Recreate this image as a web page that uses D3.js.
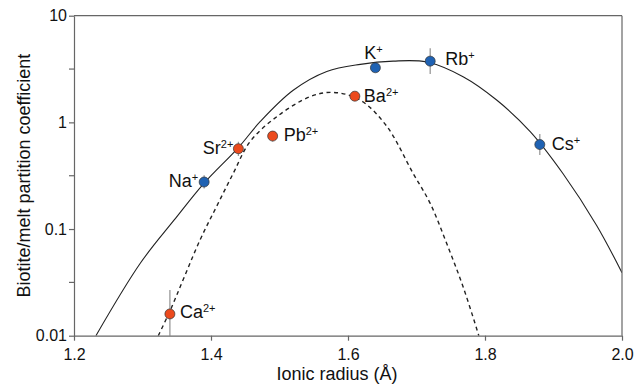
<!DOCTYPE html>
<html>
<head>
<meta charset="utf-8">
<script src="https://cdn.jsdelivr.net/npm/d3@7"></script>
<style>
  body { margin: 0; background: #fff; }
  text { font-family: "Liberation Sans", Arial, sans-serif; fill: #111; }
</style>
</head>
<body>
<div id="chart"></div>
<script>
// measured points
const ions = ["Na", "Sr", "Pb", "Ba", "K", "Rb", "Cs", "Ca"];
const charges = ["+", "2+", "2+", "2+", "+", "+", "+", "2+"];
const radius = [1.39, 1.44, 1.49, 1.61, 1.64, 1.72, 1.88, 1.34];
const partition = [0.276, 0.566, 0.744, 1.76, 3.25, 3.75, 0.62, 0.016];
const errLow = [0.24, 0.483, 0.66, 1.76, 3.25, 2.84, 0.494, 0.009];
const errHigh = [0.32, 0.658, 0.829, 1.76, 3.25, 4.94, 0.777, 0.0268];

// fitted curves
const monoR = [1.232, 1.297, 1.346, 1.39, 1.44, 1.472, 1.52, 1.569, 1.618, 1.666, 1.715, 1.768, 1.817, 1.866, 1.914, 1.963, 2.0];
const monoD = [0.01, 0.048, 0.121, 0.27, 0.58, 1.02, 2.0, 3.0, 3.5, 3.75, 3.68, 2.68, 1.62, 0.82, 0.33, 0.108, 0.039];
const diR = [1.323, 1.34, 1.384, 1.408, 1.4325, 1.457, 1.496, 1.5445, 1.5785, 1.6175, 1.656, 1.695, 1.72, 1.744, 1.768, 1.791];
const diD = [0.01, 0.017, 0.079, 0.162, 0.333, 0.66, 1.13, 1.74, 1.91, 1.62, 0.93, 0.333, 0.174, 0.0735, 0.0288, 0.01];

// axis ticks
const xTicks = [1.2, 1.4, 1.6, 1.8, 2.0];
const yTicks = [0.01, 0.1, 1, 10];
const yTickLabels = ["0.01", "0.1", "1", "10"];
const yMinorTicks = [0.0316, 0.316, 3.16];

// label offsets from each marker (layout only)
const labelPos = {
  Na: [-6, 5, "end"], Sr: [-5, 5, "end"], Pb: [11, 5, "start"], Ba: [9, 6, "start"],
  K: [-2, -9, "middle"], Rb: [15, 4, "start"], Cs: [12, 6, "start"], Ca: [10, 4, "start"]
};

const W = 643, H = 386;
const margin = {left: 74, right: 21, top: 15.7, bottom: 50.3};
const iw = W - margin.left - margin.right;
const ih = H - margin.top - margin.bottom;

const svg = d3.select("#chart").append("svg")
  .attr("width", W).attr("height", H);

const g = svg.append("g")
  .attr("transform", `translate(${margin.left},${margin.top})`);

const x = d3.scaleLinear().domain([1.2, 2.0]).range([0, iw]);
const y = d3.scaleLog().domain([0.01, 10]).range([ih, 0]);

g.append("clipPath").attr("id", "clip")
  .append("rect").attr("width", iw).attr("height", ih);

const plot = g.append("g").attr("clip-path", "url(#clip)");

/* curves */
const line = d3.line()
  .x(d => x(d[0]))
  .y(d => y(d[1]))
  .curve(d3.curveCatmullRom.alpha(0.5));

plot.append("path")
  .attr("d", line(d3.zip(monoR, monoD)))
  .attr("fill", "none").attr("stroke", "#222").attr("stroke-width", 1.1);

plot.append("path")
  .attr("d", line(d3.zip(diR, diD)))
  .attr("fill", "none").attr("stroke", "#222").attr("stroke-width", 1.4)
  .attr("stroke-dasharray", "4,3.5");

/* error bars */
const idx = d3.range(ions.length);
plot.selectAll(".err").data(idx).enter()
  .append("line")
  .attr("x1", i => x(radius[i])).attr("x2", i => x(radius[i]))
  .attr("y1", i => y(errLow[i])).attr("y2", i => y(errHigh[i]))
  .attr("stroke", "#999").attr("stroke-width", 1.3);

/* points */
plot.selectAll(".pt").data(idx).enter()
  .append("circle")
  .attr("cx", i => x(radius[i]))
  .attr("cy", i => y(partition[i]))
  .attr("r", 5)
  .attr("fill", i => charges[i] === "+" ? "#1f62b3" : "#ec4a1d")
  .attr("stroke", "#333").attr("stroke-width", 0.7);

/* labels */
const lab = g.selectAll(".lab").data(idx).enter()
  .append("text")
  .attr("x", i => x(radius[i]) + labelPos[ions[i]][0])
  .attr("y", i => y(partition[i]) + labelPos[ions[i]][1])
  .attr("text-anchor", i => labelPos[ions[i]][2])
  .style("font-size", "18px");
lab.append("tspan").text(i => ions[i]);
lab.append("tspan").attr("dy", -6).style("font-size", "11px").text(i => charges[i]);

/* axes */
const xAxis = d3.axisBottom(x).tickValues(xTicks).tickFormat(d3.format(".1f")).tickSize(5).tickSizeOuter(0);
const yAxis = d3.axisLeft(y).tickValues(yTicks).tickFormat((d, i) => yTickLabels[i]).tickSize(5).tickSizeOuter(0);

const gx = g.append("g").attr("transform", `translate(0,${ih})`).call(xAxis);
const gy = g.append("g").call(yAxis);

g.append("g").selectAll("line").data(yMinorTicks).enter()
  .append("line")
  .attr("x1", -5).attr("x2", 0)
  .attr("y1", d => y(d)).attr("y2", d => y(d))
  .attr("stroke", "#666").attr("stroke-width", 1.2);

[gx, gy].forEach(a => {
  a.select(".domain").attr("stroke", "#666").attr("stroke-width", 1.2);
  a.selectAll(".tick line").attr("stroke", "#666").attr("stroke-width", 1.2);
  a.selectAll(".tick text").style("font-size", "16px").attr("fill", "#111")
    .style("font-family", "'Liberation Sans', Arial, sans-serif");
});
gx.selectAll(".tick text").attr("dy", "1.05em");
gy.selectAll(".tick text").attr("x", -7);

// box top and right
g.append("line").attr("x1", 0).attr("x2", iw).attr("y1", 0).attr("y2", 0)
  .attr("stroke", "#666").attr("stroke-width", 1.2);
g.append("line").attr("x1", iw).attr("x2", iw).attr("y1", 0).attr("y2", ih)
  .attr("stroke", "#666").attr("stroke-width", 1.2);

/* axis titles */
svg.append("text")
  .attr("x", 337).attr("y", 380)
  .attr("text-anchor", "middle")
  .style("font-size", "18px")
  .text("Ionic radius (Å)");

svg.append("text")
  .attr("transform", `translate(30,${margin.top + ih / 2}) rotate(-90)`)
  .attr("text-anchor", "middle")
  .style("font-size", "18px")
  .text("Biotite/melt partition coefficient");
</script>
</body>
</html>
